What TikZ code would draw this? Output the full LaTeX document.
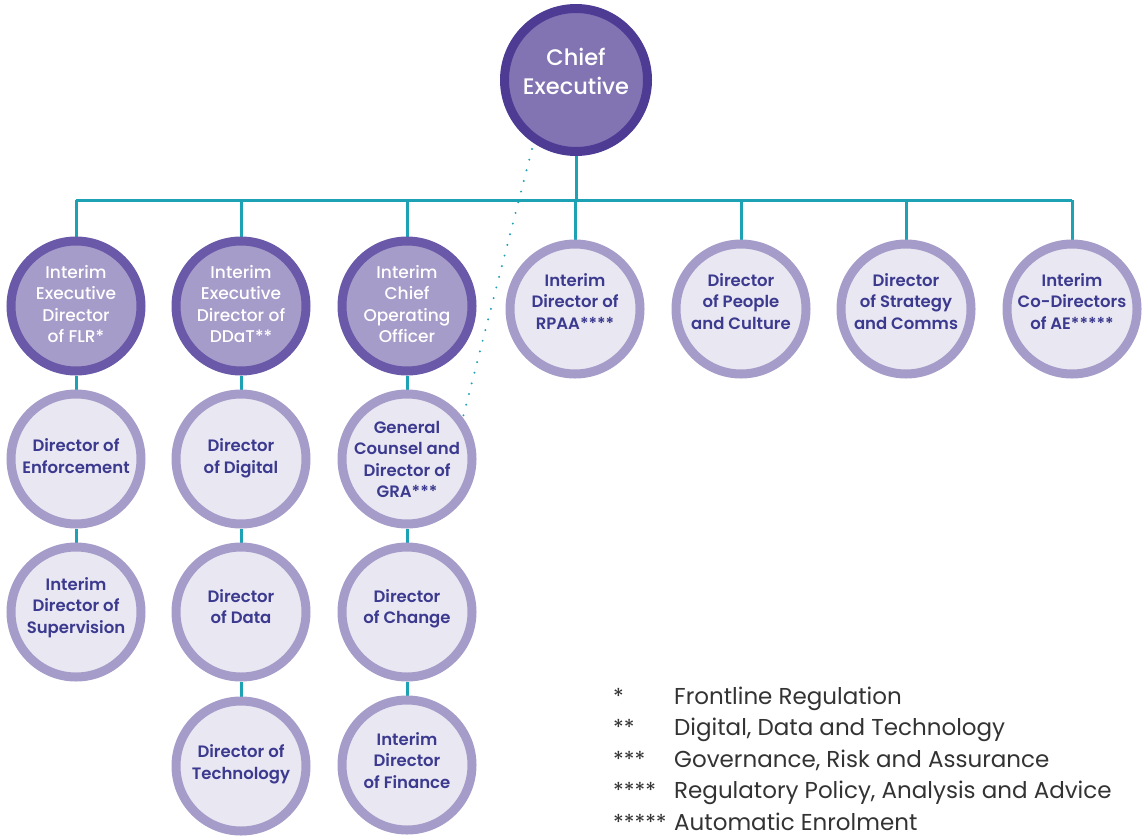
\documentclass[tikz,border=0pt]{standalone}
\usepackage{fontspec}
\setmainfont{Poppins}
\newfontfamily\popmed{Poppins Medium}
\newfontfamily\popsemi{Poppins SemiBold}
\usetikzlibrary{backgrounds}
\definecolor{ceRing}{HTML}{4E3C94}
\definecolor{ceFill}{HTML}{8273B3}
\definecolor{dkRing}{HTML}{6A58A8}
\definecolor{dkFill}{HTML}{A69CC9}
\definecolor{ltRing}{HTML}{A69CC9}
\definecolor{ltFill}{HTML}{E9E7F2}
\definecolor{ltText}{HTML}{3B3A8F}
\definecolor{teal}{HTML}{1DA1B5}
\definecolor{legText}{HTML}{333333}
\newcommand\ctext[2]{\raisebox{#1}[0pt][0pt]{\begin{tabular}{@{}c@{}}#2\end{tabular}}}
\tikzset{
  ceNode/.style={circle, draw=ceRing, fill=ceFill, line width=9pt, minimum size=143pt, inner sep=0pt,
    text=white, font=\popmed\fontsize{22.5}{29}\selectfont},
  dkNode/.style={circle, draw=dkRing, fill=dkFill, line width=9pt, minimum size=130pt, inner sep=0pt,
    text=white, font=\popmed\fontsize{17}{21.5}\selectfont},
  ltNode/.style={circle, draw=ltRing, fill=ltFill, line width=9pt, minimum size=130pt, inner sep=0pt,
    text=ltText, font=\popsemi\fontsize{16.5}{21.2}\selectfont},
  link/.style={draw=teal, line width=3pt},
  dotlink/.style={draw=teal, line width=2.2pt, line cap=round, dash pattern=on 0pt off 11pt},
  legStar/.style={anchor=base west, text=legText, font=\fontsize{22}{24}\selectfont, inner sep=0pt},
  legLabel/.style={anchor=base west, text=legText, font=\fontsize{23}{24}\selectfont, inner sep=0pt}
}
\begin{document}
\begin{tikzpicture}[x=1pt,y=-1pt]
\useasboundingbox (0,0) rectangle (1143,838);
\node[ceNode] (ce) at (576,80) {\ctext{1pt}{Chief\\Executive}};
% row 2
\node[dkNode] (flr) at (76,306) {\ctext{-4.5pt}{Interim\\Executive\\Director\\of FLR*}};
\node[dkNode] (ddat) at (241,306) {\ctext{-4.5pt}{Interim\\Executive\\Director of\\DDaT**}};
\node[dkNode] (coo) at (407,306) {\ctext{-4.5pt}{Interim\\Chief\\Operating\\Officer}};
\node[ltNode] (rpaa) at (575,309) {\ctext{1pt}{Interim\\Director of\\RPAA****}};
\node[ltNode] (people) at (741,309) {\ctext{1pt}{Director\\of People\\and Culture}};
\node[ltNode] (strat) at (906,309) {\ctext{1pt}{Director\\of Strategy\\and Comms}};
\node[ltNode] (ae) at (1072,309) {\ctext{1pt}{Interim\\Co-Directors\\of AE*****}};
% row 3
\node[ltNode] (enf) at (76,459) {\ctext{-3.5pt}{Director of\\Enforcement}};
\node[ltNode] (dig) at (241,459) {\ctext{-3.5pt}{Director\\of Digital}};
\node[ltNode] (gra) at (407,459) {\ctext{-6.5pt}{General\\Counsel and\\Director of\\GRA***}};
% row 4
\node[ltNode] (sup) at (76,612) {\ctext{0pt}{Interim\\Director of\\Supervision}};
\node[ltNode] (dat) at (241,612) {\ctext{-1pt}{Director\\of Data}};
\node[ltNode] (chg) at (407,612) {\ctext{-1pt}{Director\\of Change}};
% row 5
\node[ltNode] (tech) at (241,766) {\ctext{-2.5pt}{Director of\\Technology}};
\node[ltNode] (fin) at (407,765) {\ctext{-2pt}{Interim\\Director\\of Finance}};
% connectors
\coordinate (busL) at (76,200);
\coordinate (busR) at (1072,200);
\coordinate (dotA) at (532,149);
\coordinate (dotB) at (463,417);
\begin{scope}[on background layer]
\draw[link] (ce.south) -- (ce.south |- busL);
\draw[link] (busL) -- (busR);
\foreach \n in {flr,ddat,coo,rpaa,people,strat,ae}{
  \draw[link] (\n.north) -- (\n.north |- busL);
}
\draw[link] (flr) -- (enf);
\draw[link] (enf) -- (sup);
\draw[link] (ddat) -- (dig);
\draw[link] (dig) -- (dat);
\draw[link] (dat) -- (tech);
\draw[link] (coo) -- (gra);
\draw[link] (gra) -- (chg);
\draw[link] (chg) -- (fin);
\draw[dotlink] (dotA) -- (dotB);
\end{scope}
% legend
\node[legStar] (s1) at (613,704) {*};
\node[legLabel] (l1) at (674,704) {Frontline Regulation};
\node[legStar] (s2) at (613,735.5) {**};
\node[legLabel] (l2) at (674,735.5) {Digital, Data and Technology};
\node[legStar] (s3) at (613,767) {***};
\node[legLabel] (l3) at (674,767) {Governance, Risk and Assurance};
\node[legStar] (s4) at (613,798.5) {****};
\node[legLabel] (l4) at (674,798.5) {Regulatory Policy, Analysis and Advice};
\node[legStar] (s5) at (613,830) {*****};
\node[legLabel] (l5) at (674,830) {Automatic Enrolment};
\end{tikzpicture}
\end{document}
